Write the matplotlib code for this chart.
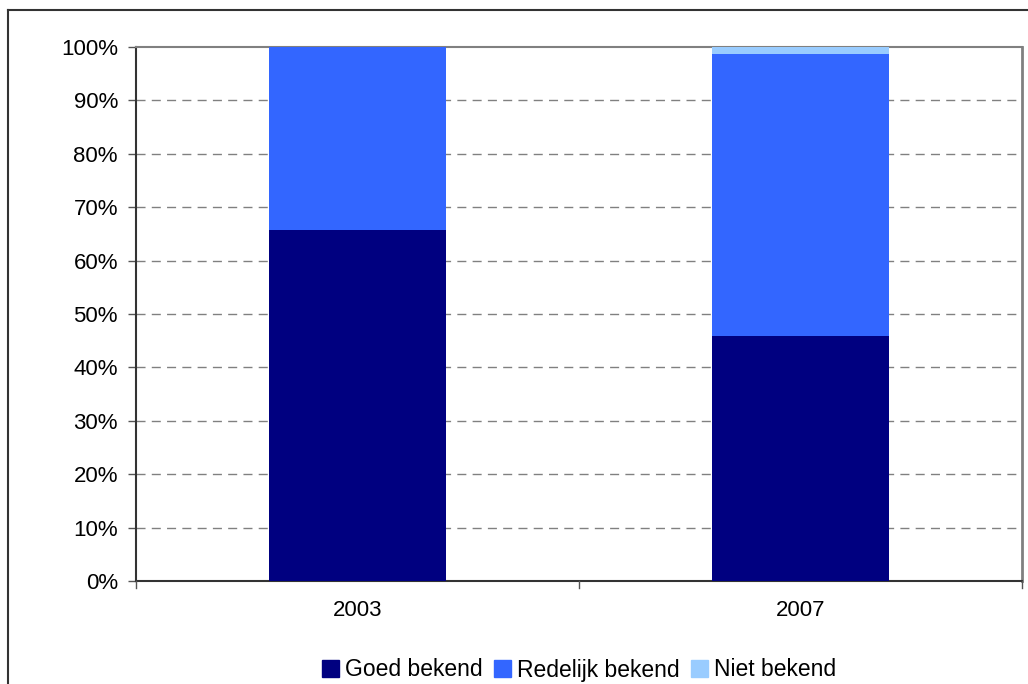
import matplotlib
matplotlib.use("Agg")
import matplotlib.pyplot as plt
from matplotlib.patches import Rectangle
from matplotlib.lines import Line2D

plt.rcParams['font.family'] = ['Liberation Sans', 'DejaVu Sans']

years = ["2003", "2007"]
goed = [65.7, 45.9]
redelijk = [34.3, 52.8]
niet = [0.0, 1.3]
series_names = ["Goed bekend", "Redelijk bekend", "Niet bekend"]
colors = ["#000080", "#3366FF", "#99CCFF"]
yticks = list(range(0, 101, 10))

W, H = 1028, 684
fig = plt.figure(figsize=(W/100, H/100), dpi=100)
ax = fig.add_axes([136/W, 1-581/H, (1022-136)/W, (581-47)/H])

x = [0, 1]
ax.bar(x, goed, width=0.4, color=colors[0], zorder=3, label=series_names[0])
ax.bar(x, redelijk, width=0.4, bottom=goed, color=colors[1], zorder=3, label=series_names[1])
bottom2 = [g + r for g, r in zip(goed, redelijk)]
ax.bar(x, niet, width=0.4, bottom=bottom2, color=colors[2], zorder=3, label=series_names[2])

ax.set_xlim(-0.5, 1.5)
ax.set_ylim(0, 100)
ax.set_yticks(yticks)
ax.set_yticklabels([f"{v}%" for v in yticks], fontsize=16)
ax.set_xticks(x)
ax.set_xticklabels(years, fontsize=16)
ax.tick_params(axis='x', length=0, pad=14)
ax.tick_params(axis='y', length=6, width=1, color='#555555', pad=7)
for xb in [-0.5, 0.5, 1.5]:
    ax.plot([xb, xb], [0, -1.3], color='#555555', lw=1, clip_on=False, zorder=4)

for v in yticks[1:-1]:
    ax.axhline(v, color='#808080', lw=1, ls=(0, (6.5, 4.5)), zorder=1)

ax.spines['left'].set_color('#333333')
ax.spines['bottom'].set_color('#333333')
ax.spines['left'].set_linewidth(1.5)
ax.spines['bottom'].set_linewidth(1.5)
ax.spines['top'].set_color('#808080')
ax.spines['right'].set_color('#808080')
ax.spines['top'].set_linewidth(1.5)
ax.spines['right'].set_linewidth(2)

fig.add_artist(Line2D([8/W, 1.0], [1-10/H, 1-10/H], transform=fig.transFigure, color='#333333', lw=1.5))
fig.add_artist(Line2D([8/W, 8/W], [0, 1-10/H], transform=fig.transFigure, color='#333333', lw=1.5))

handles = [Rectangle((0, 0), 1, 1, color=c) for c in colors]
fig.legend(handles, series_names, loc='center', bbox_to_anchor=(579/W, 1-670/H),
           ncol=3, frameon=False, fontsize=16.5, handlelength=0.75, handleheight=0.75,
           handletextpad=0.25, columnspacing=0.5, borderpad=0)

fig.savefig("out.png", dpi=100)
